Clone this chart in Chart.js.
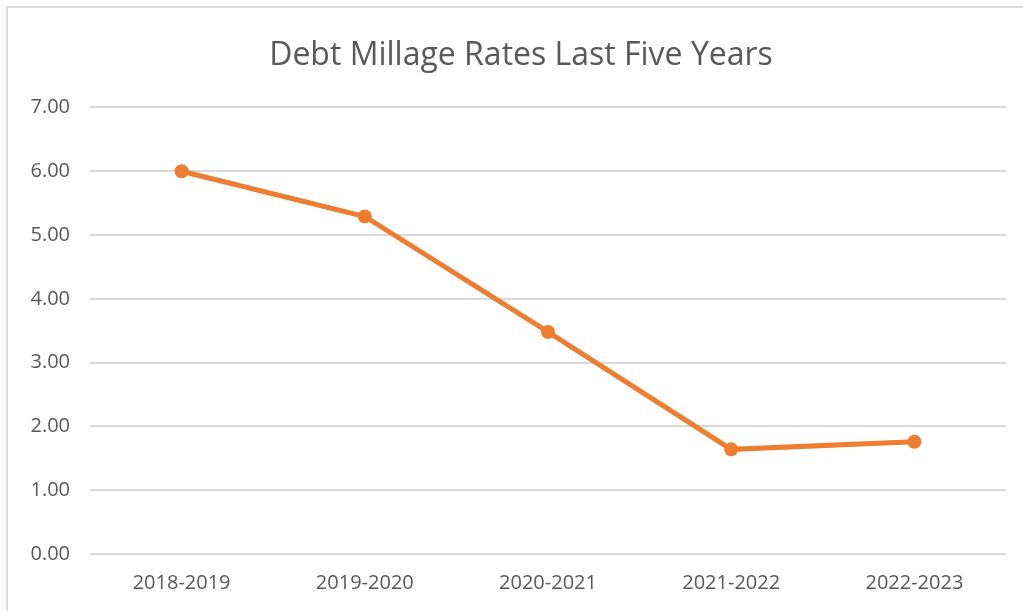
<!DOCTYPE html>
<html>
<head>
<meta charset="utf-8">
<script src="https://cdn.jsdelivr.net/npm/chart.js"></script>
<style>
  html, body { margin: 0; padding: 0; background: #fff; }
  #wrap { position: relative; width: 1023px; height: 611px; overflow: hidden; }
  #frame { position: absolute; left: 6px; top: 6px; width: 1040px; height: 640px; border: 2px solid #d9d9d9; }
  canvas { position: absolute; left: 0; top: 0; }
</style>
</head>
<body>
<div id="wrap">
  <div id="frame"></div>
  <canvas id="myChart" width="1042" height="611"></canvas>
</div>
<script>
// chart data
var years = ["2018-2019", "2019-2020", "2020-2021", "2021-2022", "2022-2023"];
var rates = [6.00, 5.29, 3.48, 1.64, 1.76];
var yTicks = [0, 1, 2, 3, 4, 5, 6, 7];

// the chart box runs past the window on the right, so centre the title on the whole box
var titleShift = {
  id: "titleShift",
  afterLayout: function (chart) {
    if (chart.titleBlock) {
      chart.titleBlock.left += 18;
      chart.titleBlock.right += 18;
    }
  },
};

var ctx = document.getElementById("myChart").getContext("2d");
var chart = new Chart(ctx, {
  type: "line",
  data: {
    labels: years,
    datasets: [
      {
        label: "Debt Millage Rate",
        data: rates,
        borderColor: "#ED7D31",
        backgroundColor: "#ED7D31",
        borderWidth: 5,
        pointRadius: 7,
        pointBorderWidth: 0,
        tension: 0,
      },
    ],
  },
  options: {
    responsive: false,
    animation: false,
    layout: { padding: { left: 0, right: 36, top: 0, bottom: 0 } },
    plugins: {
      legend: { display: false },
      tooltip: { enabled: false },
      title: {
        display: true,
        text: "Debt Millage Rates Last Five Years",
        color: "#595959",
        font: { family: "'Open Sans'", size: 32, weight: "normal", lineHeight: 1.2 },
        padding: { top: 37, bottom: 32 },
      },
    },
    scales: {
      x: {
        offset: true,
        grid: { display: false, drawTicks: false },
        border: { display: false },
        ticks: {
          color: "#595959",
          font: { family: "'Open Sans'", size: 20 },
          padding: 17,
          maxRotation: 0,
        },
        afterFit: function (scale) { scale.height = 57; },
      },
      y: {
        min: 0,
        max: 7,
        afterBuildTicks: function (scale) {
          scale.ticks = yTicks.map(function (v) { return { value: v }; });
        },
        grid: { color: "#d9d9d9", lineWidth: 2, drawTicks: false },
        border: { display: false },
        ticks: {
          color: "#595959",
          font: { family: "'Open Sans'", size: 20 },
          padding: 20,
          callback: function (v) { return Number(v).toFixed(2); },
        },
        afterFit: function (scale) { scale.width = 90; },
      },
    },
  },
  plugins: [titleShift],
});
</script>
</body>
</html>
